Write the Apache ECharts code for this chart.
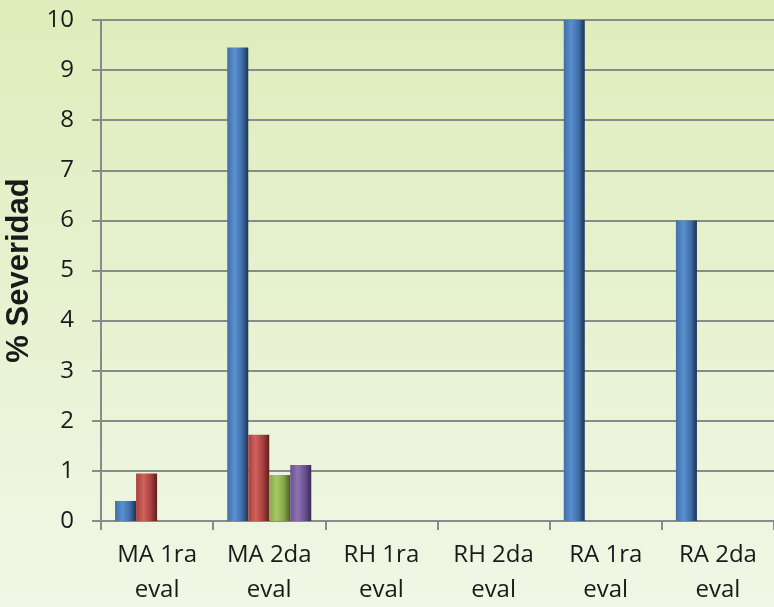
<!DOCTYPE html>
<html><head><meta charset="utf-8">
<script src="https://cdn.jsdelivr.net/npm/echarts@6/dist/echarts.min.js"></script>
<style>html,body{margin:0;padding:0;}#c{width:774px;height:607px;}</style>
</head><body><div id="c"></div>
<script>
const categories = ['MA 1ra\neval','MA 2da\neval','RH 1ra\neval','RH 2da\neval','RA 1ra\neval','RA 2da\neval'];
const serieA = [0.4, 9.45, 0, 0, 10, 6];
const serieB = [0.95, 1.72, 0, 0, 0, 0];
const serieC = [0, 0.92, 0, 0, 0, 0];
const serieD = [0, 1.12, 0, 0, 0, 0];
const yTicks = [0,1,2,3,4,5,6,7,8,9,10];

function grad(l, m, d) {
  return new echarts.graphic.LinearGradient(0,0,1,0,[
    {offset:0,color:l},{offset:0.35,color:m},{offset:0.7,color:l},{offset:1,color:d}]);
}
const colors = [
  grad('#3f6fa8','#5b8fd0','#1c3354'),
  grad('#a8403d','#d0615e','#5a1f1e'),
  grad('#86a548','#a9c868','#4a5c22'),
  grad('#6a5190','#8e72b2','#3a2a52')
];
const font = 'Open Sans';
const chart = echarts.init(document.getElementById('c'), null, {renderer:'canvas'});
function mk(name, data, i) {
  return {type:'bar', name, data, barWidth:21, barGap:'0%',
    itemStyle:{color: colors[i]},
    emphasis:{disabled:true}};
}
chart.setOption({
  animation:false,
  backgroundColor: new echarts.graphic.LinearGradient(0,0,0,1,[
    {offset:0,color:'#deedbb'},{offset:1,color:'#f0f7e6'}]),
  grid:{left:101, right:0, top:20, bottom:86, containLabel:false, outerBoundsMode:'none'},
  xAxis:{type:'category', data:categories,
    axisLine:{lineStyle:{color:'#8a8a8a', width:2}},
    axisTick:{show:true, length:9, lineStyle:{color:'#8a8a8a', width:2}},
    axisLabel:{color:'#1a1a1a', fontSize:24, fontFamily:font, lineHeight:35, margin:17, interval:0}},
  yAxis:{type:'value', min:0, max:10, interval:1,
    name:'% Severidad', nameLocation:'middle', nameGap:66,
    nameTextStyle:{fontSize:31, fontWeight:'bold', fontFamily:'Liberation Sans', color:'#1a1a1a'},
    axisLine:{show:true, lineStyle:{color:'#8a8a8a', width:2}},
    axisTick:{show:true, length:9, lineStyle:{color:'#8a8a8a', width:2}},
    axisLabel:{color:'#1a1a1a', fontSize:24, fontFamily:font, margin:27,
      formatter: v => yTicks.includes(v) ? String(v) : ''},
    splitLine:{lineStyle:{color:'#8a8a8a', width:2}}},
  series:[mk('A',serieA,0), mk('B',serieB,1), mk('C',serieC,2), mk('D',serieD,3)]
});
</script></body></html>
